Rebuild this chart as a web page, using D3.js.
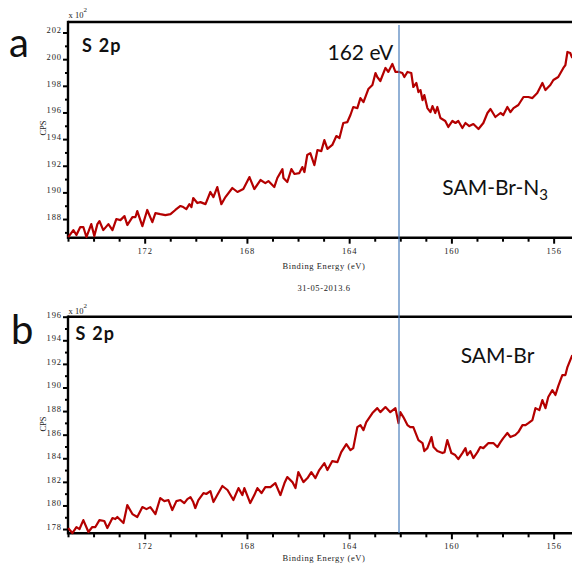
<!DOCTYPE html>
<html>
<head>
<meta charset="utf-8">
<script src="https://cdn.jsdelivr.net/npm/d3@7"></script>
<style>
  html, body { margin: 0; padding: 0; background: #fff; }
  svg { display: block; }
</style>
</head>
<body>
<div id="chart"></div>
<script>
// XPS S 2p spectra - panel a (SAM-Br-N3) and panel b (SAM-Br), counts in x10^2 CPS

const topEnergy = [174.99,174.79,174.67,174.52,174.40,174.28,174.09,173.97,173.85,173.77,173.62,173.42,173.26,173.11,172.95,172.79,172.68,172.48,172.36,172.29,172.09,171.90,171.70,171.58,171.39,171.19,170.99,170.80,170.60,170.49,170.37,170.25,170.17,170.10,169.94,169.82,169.62,169.43,169.31,169.16,169.00,168.84,168.57,168.37,168.14,167.90,167.71,167.47,167.28,167.16,166.93,166.81,166.61,166.57,166.42,166.26,166.14,165.95,165.83,165.75,165.64,165.52,165.36,165.24,165.09,164.97,164.85,164.66,164.50,164.38,164.23,164.07,163.95,163.84,163.68,163.56,163.44,163.25,163.09,162.97,162.90,162.78,162.58,162.47,162.31,162.19,162.04,161.92,161.84,161.72,161.57,161.49,161.37,161.29,161.21,161.13,161.06,160.94,160.82,160.74,160.63,160.55,160.43,160.24,160.12,159.96,159.84,159.73,159.57,159.45,159.30,159.14,158.94,158.75,158.59,158.47,158.28,158.08,157.97,157.81,157.69,157.57,157.38,157.18,156.99,156.83,156.64,156.44,156.32,156.13,156.01,155.82,155.62,155.54,155.46,155.35,155.27];
const topCounts = [186.65,187.17,186.80,187.40,187.40,186.65,187.62,186.72,187.62,187.85,187.17,187.62,187.17,188.00,187.92,188.22,187.55,188.15,188.15,188.60,187.47,188.68,187.77,188.45,188.37,188.30,188.37,188.68,188.98,188.90,188.75,189.12,188.90,189.58,189.20,189.27,189.12,190.03,189.65,190.40,189.12,189.65,190.33,190.03,190.25,191.15,190.25,190.93,190.70,190.85,190.40,191.08,191.75,191.08,190.78,191.75,191.38,191.45,191.90,191.53,192.81,192.95,192.05,193.18,193.10,193.93,193.26,193.56,194.23,194.08,195.21,195.28,195.81,196.41,196.33,197.08,196.78,197.76,198.06,198.96,198.66,198.36,199.34,199.04,199.64,199.04,199.04,198.96,198.66,199.04,198.96,197.91,198.21,197.53,197.68,196.93,197.31,196.33,196.03,196.48,195.96,196.41,195.58,195.36,194.91,195.36,195.21,195.36,194.83,195.21,194.98,195.13,194.76,195.21,195.96,196.26,195.66,195.96,195.81,196.41,196.03,196.33,196.56,197.16,197.16,197.08,197.46,198.21,197.68,198.06,198.44,198.66,199.34,199.56,200.54,200.46,200.09];

const bottomEnergy = [174.99,174.83,174.67,174.55,174.40,174.20,174.05,173.93,173.77,173.58,173.46,173.26,173.15,173.07,172.83,172.68,172.48,172.29,172.09,171.93,171.78,171.58,171.39,171.23,171.07,170.92,170.76,170.60,170.45,170.33,170.21,170.10,170.02,169.90,169.70,169.59,169.43,169.31,169.16,168.96,168.76,168.53,168.33,168.18,168.10,167.87,167.71,167.59,167.43,167.28,167.08,166.89,166.69,166.53,166.42,166.22,166.10,165.99,165.79,165.63,165.48,165.32,165.17,164.97,164.85,164.66,164.46,164.31,164.11,163.95,163.84,163.68,163.56,163.44,163.33,163.09,162.90,162.78,162.58,162.39,162.19,162.07,162.00,161.88,161.72,161.61,161.49,161.29,161.13,161.06,160.94,160.78,160.70,160.55,160.35,160.27,160.16,160.00,159.85,159.73,159.57,159.45,159.38,159.26,159.14,158.98,158.87,158.75,158.55,158.36,158.20,158.08,157.97,157.81,157.69,157.50,157.38,157.22,157.10,156.99,156.83,156.71,156.56,156.44,156.32,156.21,156.05,155.93,155.82,155.66,155.54,155.46,155.35,155.27];
const bottomCounts = [178.08,177.66,178.17,178.00,178.76,177.75,178.17,178.17,178.76,178.68,178.08,178.93,178.85,179.02,178.51,180.03,179.27,179.02,179.86,179.69,179.86,179.27,180.63,180.37,180.46,179.61,180.37,180.46,180.20,180.54,180.71,180.29,179.78,180.46,181.05,180.97,181.22,180.29,180.88,181.65,181.31,180.46,181.47,180.88,181.47,180.20,180.88,181.47,181.05,181.56,181.56,181.90,180.88,181.90,182.41,181.98,181.47,182.83,181.98,182.32,182.83,182.32,183.00,183.59,183.00,183.76,183.68,184.52,185.20,184.69,184.86,186.64,186.81,186.39,187.07,187.83,188.25,187.91,188.34,187.91,188.25,186.98,187.91,187.49,186.81,186.64,186.64,185.54,185.29,184.61,184.86,185.80,184.95,184.61,184.44,184.52,185.54,184.44,184.27,183.93,184.44,184.86,184.27,184.61,184.02,184.52,184.95,184.86,185.29,185.29,184.95,185.37,185.71,186.14,185.80,185.97,186.22,186.81,186.81,186.98,187.24,188.25,188.08,188.93,188.25,189.19,189.78,189.36,190.12,191.05,191.05,191.73,192.32,192.74];

const energyMajorTicks = [172, 168, 164, 160, 156];
const energyMinorTicks = [175,174,173,171,170,169,167,166,165,163,162,161,159,158,157,155];
const topMajorTicks = [188, 190, 192, 194, 196, 198, 200, 202];
const topMinorTicks = [187, 189, 191, 193, 195, 197, 199, 201];
const bottomMajorTicks = [178, 180, 182, 184, 186, 188, 190, 192, 194, 196];
const bottomMinorTicks = [179, 181, 183, 185, 187, 189, 191, 193, 195];
const markerEnergy = 162.05;

const W = 572, H = 568;
const serif = "'Liberation Serif', 'DejaVu Serif', serif";
const sans = "Lato, 'Open Sans', sans-serif";

const svg = d3.select("#chart").append("svg")
    .attr("width", W).attr("height", H)
    .style("overflow", "hidden");

const x = d3.scaleLinear().domain([175, 155]).range([68, 579.2]);
const xAxisRightEnd = W;

function styleAxis(g) {
    g.select(".domain").remove();
    g.selectAll(".tick line").attr("stroke", "#000").attr("stroke-width", 2);
    g.selectAll(".tick text")
        .attr("fill", "#222")
        .style("font-family", serif)
        .style("font-size", "8.5px")
        .style("letter-spacing", "0.9px");
}

function drawPanel(p) {
    const y = d3.scaleLinear().domain(p.yDomain).range([p.bottom, p.top]);
    const g = svg.append("g");

    // bottom axis: minor then major ticks
    g.append("g").attr("transform", `translate(0,${p.bottom})`)
        .call(d3.axisBottom(x).tickValues(energyMinorTicks).tickSize(4).tickFormat(""))
        .call(styleAxis);
    g.append("g").attr("transform", `translate(0,${p.bottom})`)
        .call(d3.axisBottom(x).tickValues(energyMajorTicks).tickSize(6).tickPadding(4).tickFormat(d3.format("d")))
        .call(styleAxis);

    // left axis
    g.append("g").attr("transform", `translate(${x.range()[0]},0)`)
        .call(d3.axisLeft(y).tickValues(p.minor).tickSize(3).tickFormat(""))
        .call(styleAxis);
    g.append("g").attr("transform", `translate(${x.range()[0]},0)`)
        .call(d3.axisLeft(y).tickValues(p.major).tickSize(5).tickPadding(1).tickFormat(d3.format("d")))
        .call(styleAxis)
        .call(a => a.selectAll(".tick text").attr("dy", "0.05em"));

    // frame lines
    g.append("line").attr("x1", x.range()[0]).attr("x2", xAxisRightEnd)
        .attr("y1", p.bottom).attr("y2", p.bottom).attr("stroke", "#000").attr("stroke-width", 2.4);
    g.append("line").attr("x1", x.range()[0]).attr("x2", xAxisRightEnd)
        .attr("y1", p.top).attr("y2", p.top).attr("stroke", "#000").attr("stroke-width", 2.4);
    g.append("line").attr("x1", x.range()[0]).attr("x2", x.range()[0])
        .attr("y1", p.top - 1.2).attr("y2", p.bottom + 1.2).attr("stroke", "#000").attr("stroke-width", 2.4);

    // spectrum
    const pts = d3.zip(p.energy, p.counts);
    g.append("path")
        .datum(pts)
        .attr("fill", "none")
        .attr("stroke", "#b40000")
        .attr("stroke-width", 2.2)
        .attr("stroke-linejoin", "round")
        .attr("d", d3.line().x(d => x(d[0])).y(d => y(d[1])));

    // multiplier label x10^2
    const mult = g.append("text").attr("x", x.range()[0] + 0.5).attr("y", p.multY)
        .style("font-family", serif).style("font-size", "8.5px").attr("fill", "#222");
    mult.append("tspan").text("x 10");
    mult.append("tspan").attr("dy", -6).style("font-size", "7px").text("2");

    // CPS label
    g.append("text")
        .attr("transform", `translate(45.5,${p.cpsY}) rotate(-90)`)
        .attr("text-anchor", "middle")
        .style("font-family", serif).style("font-size", "8.5px").attr("fill", "#222")
        .text("CPS");

    // x axis title
    g.append("text").attr("x", 324).attr("y", p.titleY).attr("text-anchor", "middle")
        .style("font-family", serif).style("font-size", "8.5px").style("letter-spacing", "0.6px")
        .attr("fill", "#222").text("Binding Energy (eV)");

    // panel letter and S 2p
    g.append("text").attr("x", p.letterX).attr("y", p.letterY)
        .style("font-family", sans).style("font-size", "40px").attr("fill", "#111")
        .text(p.letter);
    g.append("text").attr("x", p.s2pX).attr("y", p.s2pY)
        .style("font-family", sans).style("font-size", "18px").style("font-weight", "bold")
        .style("letter-spacing", "1.2px").attr("fill", "#111")
        .text("S 2p");

    return y;
}

drawPanel({
    energy: topEnergy, counts: topCounts,
    yDomain: [186.6, 202.79], top: 22, bottom: 237.7,
    major: topMajorTicks, minor: topMinorTicks,
    multY: 18.3, cpsY: 128, titleY: 269,
    letter: "a", letterX: 9, letterY: 56.7,
    s2pX: 82, s2pY: 52.3
});

drawPanel({
    energy: bottomEnergy, counts: bottomCounts,
    yDomain: [177.64, 196], top: 316.7, bottom: 533.3,
    major: bottomMajorTicks, minor: bottomMinorTicks,
    multY: 313.5, cpsY: 424, titleY: 561,
    letter: "b", letterX: 11, letterY: 343.5,
    s2pX: 75.5, s2pY: 340
});

// 162 eV marker line across both panels
svg.append("line")
    .attr("x1", x(markerEnergy)).attr("x2", x(markerEnergy))
    .attr("y1", 25).attr("y2", 533)
    .attr("stroke", "#4a7ebb").attr("stroke-width", 1.2);

// annotations
svg.append("text").attr("x", 327.5).attr("y", 60)
    .style("font-family", sans).style("font-size", "21px").attr("fill", "#111")
    .text("162 eV");

const n3 = svg.append("text").attr("x", 442.3).attr("y", 195)
    .style("font-family", sans).style("font-size", "21px").attr("fill", "#111");
n3.append("tspan").text("SAM-Br-N");
n3.append("tspan").attr("dy", 4.5).style("font-size", "15px").text("3");

svg.append("text").attr("x", 460.7).attr("y", 362.7)
    .style("font-family", sans).style("font-size", "21px").attr("fill", "#111")
    .text("SAM-Br");

svg.append("text").attr("x", 324).attr("y", 291.3).attr("text-anchor", "middle")
    .style("font-family", serif).style("font-size", "8.5px").style("letter-spacing", "0.6px")
    .attr("fill", "#222").text("31-05-2013.6");
</script>
</body>
</html>
